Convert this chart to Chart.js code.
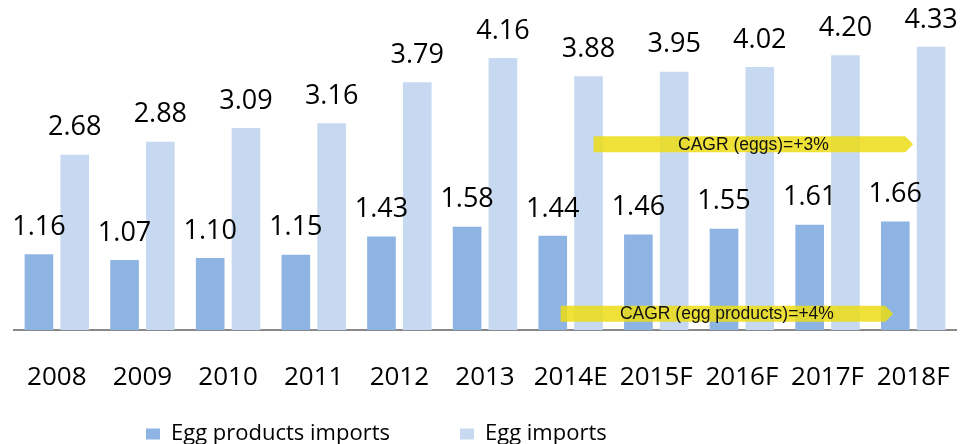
<!DOCTYPE html>
<html>
<head>
<meta charset="utf-8">
<script src="https://cdn.jsdelivr.net/npm/chart.js@4.4.1/dist/chart.umd.min.js"></script>
<style>
  html, body { margin: 0; padding: 0; background: #fff; }
  #wrap { width: 963px; height: 444px; }
</style>
</head>
<body>
<div id="wrap"><canvas id="importChart"></canvas></div>
<script>
const years = ['2008', '2009', '2010', '2011', '2012', '2013', '2014E', '2015F', '2016F', '2017F', '2018F'];
const eggProductImports = [1.16, 1.07, 1.10, 1.15, 1.43, 1.58, 1.44, 1.46, 1.55, 1.61, 1.66];
const eggImports = [2.68, 2.88, 3.09, 3.16, 3.79, 4.16, 3.88, 3.95, 4.02, 4.20, 4.33];

// CAGR callouts: text, first/last category, level on the value axis
const cagrNotes = [
    { text: 'CAGR (eggs)=+3%', from: 6, to: 10, level: 2.84, startShift: 23, endShift: 0 },
    { text: 'CAGR (egg products)=+4%', from: 6, to: 10, level: 0.25, startShift: -10, endShift: -20 }
];

const ctx = document.getElementById('importChart').getContext('2d');

// value labels over each bar
const barLabels = {
    id: 'barLabels',
    afterDatasetsDraw(chart) {
        const c = chart.ctx;
        c.save();
        c.font = '27px "Open Sans"';
        c.fillStyle = '#000';
        c.textAlign = 'center';
        c.textBaseline = 'middle';
        chart.data.datasets.forEach((ds, i) => {
            chart.getDatasetMeta(i).data.forEach((bar, j) => {
                c.fillText(ds.data[j].toFixed(2), bar.x, bar.y - 27);
            });
        });
        c.restore();
    }
};

// yellow CAGR arrows
const cagrArrows = {
    id: 'cagrArrows',
    afterDatasetsDraw(chart) {
        const c = chart.ctx;
        const xs = chart.scales.x;
        const ys = chart.scales.y;
        c.save();
        cagrNotes.forEach(n => {
            const x1 = xs.getPixelForValue(n.from) + n.startShift;
            const x2 = xs.getPixelForValue(n.to) + n.endShift;
            const yc = ys.getPixelForValue(n.level);
            const h = 8;
            c.fillStyle = 'rgba(236, 220, 20, 0.85)';
            c.beginPath();
            c.moveTo(x1, yc - h);
            c.lineTo(x2 - 8, yc - h);
            c.lineTo(x2, yc);
            c.lineTo(x2 - 8, yc + h);
            c.lineTo(x1, yc + h);
            c.closePath();
            c.fill();
            c.fillStyle = '#111';
            c.font = '17.5px "Liberation Sans"';
            c.textAlign = 'center';
            c.textBaseline = 'middle';
            c.fillText(n.text, (x1 + x2) / 2, yc + 1);
        });
        c.restore();
    }
};

// legend keeps wide gaps between items but a short box; move its box so the row lands in place
const legendShift = {
    id: 'legendShift',
    afterLayout(chart) {
        const lg = chart.legend;
        if (!lg) return;
        lg.top -= 51;
        lg.left += 62;
    }
};

const importChart = new Chart(ctx, {
    type: 'bar',
    data: {
        labels: years,
        datasets: [
            {
                label: 'Egg products imports',
                data: eggProductImports,
                backgroundColor: '#8EB4E3',
                borderWidth: 0
            },
            {
                label: 'Egg imports',
                data: eggImports,
                backgroundColor: '#C6D9F1',
                borderWidth: 0
            }
        ]
    },
    options: {
        responsive: true,
        maintainAspectRatio: false,
        animation: false,
        datasets: {
            bar: {
                barPercentage: 0.8,
                categoryPercentage: 0.836
            }
        },
        layout: {
            padding: { top: 3, left: 14, right: 7, bottom: 0 }
        },
        scales: {
            x: {
                grid: { display: false },
                border: { display: true, color: '#898989', width: 2 },
                ticks: {
                    color: '#000',
                    font: { family: 'Open Sans', size: 26 },
                    padding: 24,
                    maxRotation: 0,
                    autoSkip: false
                },
                afterFit(scale) {
                    scale.height = 74;
                    scale.paddingLeft = 0;
                    scale.paddingRight = 0;
                }
            },
            y: {
                display: false,
                min: 0,
                max: 5
            }
        },
        plugins: {
            legend: {
                position: 'bottom',
                align: 'start',
                maxHeight: 40,
                labels: {
                    color: '#000',
                    font: { family: 'Open Sans', size: 22 },
                    boxWidth: 14,
                    boxHeight: 11,
                    padding: 70
                }
            },
            tooltip: { enabled: false }
        }
    },
    plugins: [barLabels, cagrArrows, legendShift]
});
</script>
</body>
</html>
